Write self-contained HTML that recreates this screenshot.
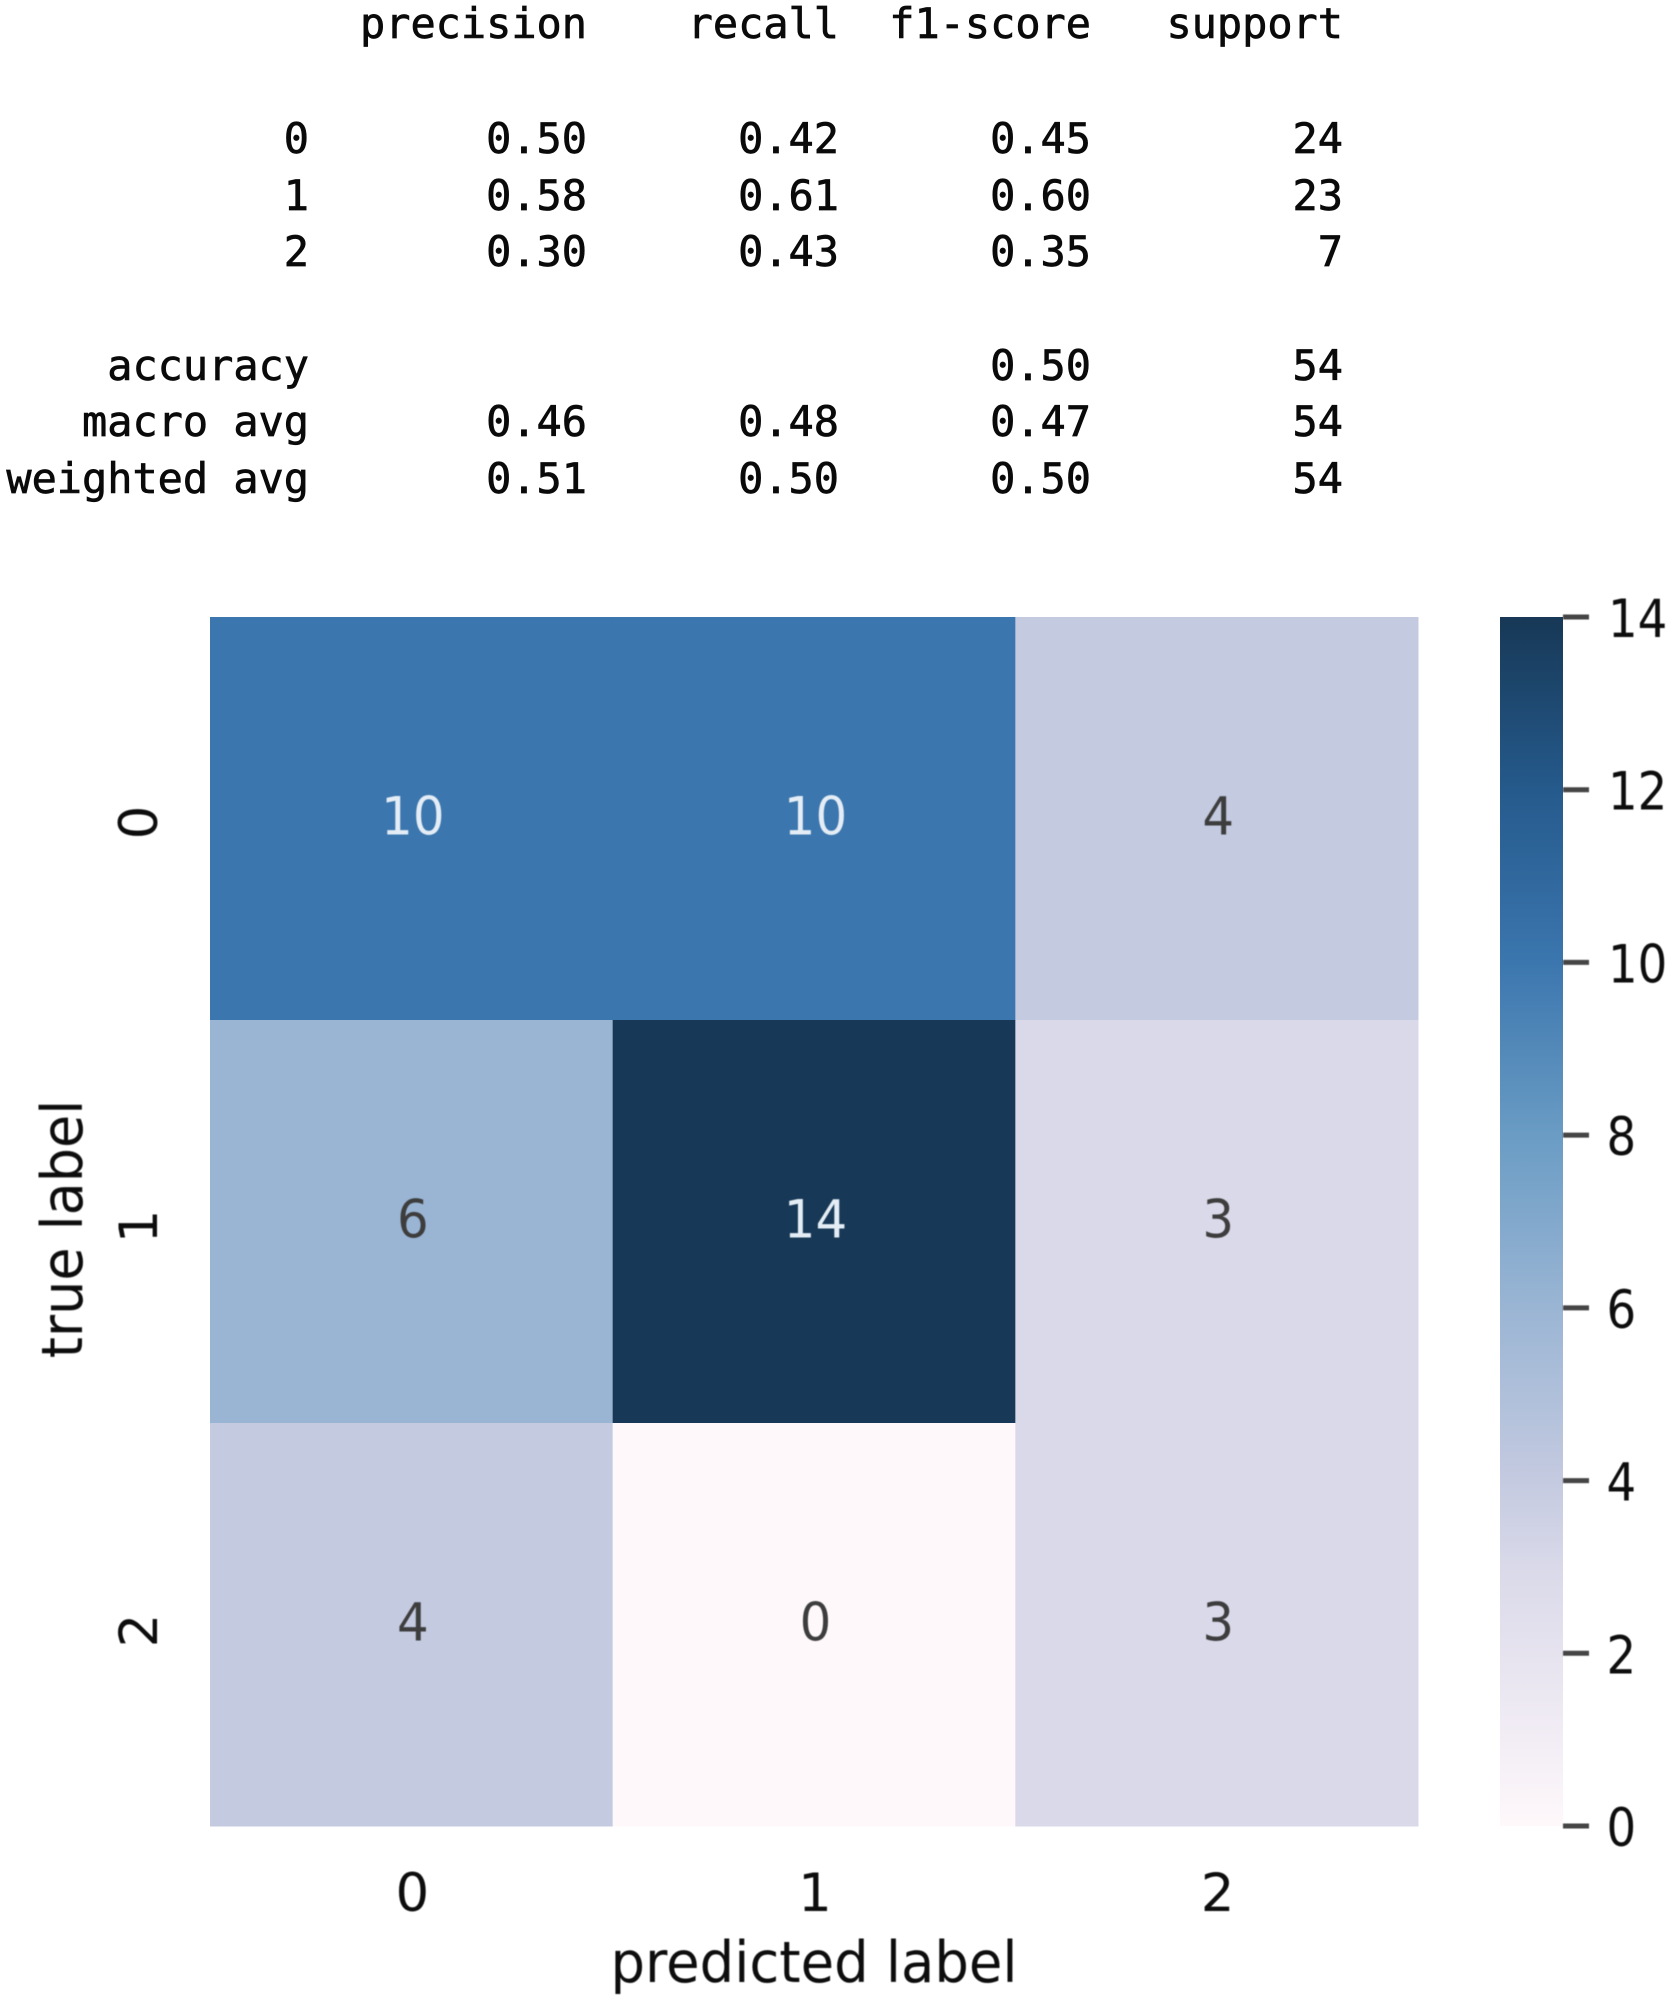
<!DOCTYPE html>
<html>
<head>
<meta charset="utf-8">
<title>Classification report and confusion matrix</title>
<style>
html,body{margin:0;padding:0;background:#fff;width:1675px;height:2005px;overflow:hidden}
svg{display:block}
.mono{font-family:"DejaVu Sans Mono","Liberation Mono",monospace;font-size:41.9px;fill:#0a0a0a;stroke:#0a0a0a;stroke-width:0.7px;text-anchor:end}
.sans{font-family:"DejaVu Sans","Liberation Sans",sans-serif;text-anchor:middle}
</style>
</head>
<body>
<svg id="figure" xmlns="http://www.w3.org/2000/svg" width="1675" height="2005" viewBox="0 0 1675 2005">
<defs>
<linearGradient id="cbar-gradient" x1="0" y1="1" x2="0" y2="0"></linearGradient>
<filter id="soft" filterUnits="userSpaceOnUse" x="0" y="0" width="1675" height="2005"><feGaussianBlur stdDeviation="0.6"/></filter>
</defs>
<g id="report"></g>
<g id="cells"></g>
<g id="annots" filter="url(#soft)"></g>
<g id="xaxis" filter="url(#soft)"></g>
<g id="yaxis" filter="url(#soft)"></g>
<g id="cbar"></g>
<g id="cbar-ticks" filter="url(#soft)"></g>
</svg>
<script>
// Classification report data
const reportHeaders = ["precision", "recall", "f1-score", "support"];
const reportLabels = ["0", "1", "2", "accuracy", "macro avg", "weighted avg"];
const reportPrecision = ["0.50", "0.58", "0.30", "", "0.46", "0.51"];
const reportRecall = ["0.42", "0.61", "0.43", "", "0.48", "0.50"];
const reportF1 = ["0.45", "0.60", "0.35", "0.50", "0.47", "0.50"];
const reportSupport = ["24", "23", "7", "54", "54", "54"];

// Confusion matrix data
const predictedCategories = ["0", "1", "2"];
const trueCategories = ["0", "1", "2"];
const matrixRow0 = [10, 10, 4];
const matrixRow1 = [6, 14, 3];
const matrixRow2 = [4, 0, 3];
const colorbarTicks = [0, 2, 4, 6, 8, 10, 12, 14];

// Colour map anchors: value and colour
const cmapValues = [0, 1, 2, 3, 4, 6, 8, 10, 12, 14];
const cmapColors = ["#fef8fb", "#f2edf5", "#e6e3ef", "#d9d9e9", "#c4cae0", "#9ab5d4", "#6a9cc4", "#3b76ae", "#255a8c", "#173856"];

const SVG_NS = "http://www.w3.org/2000/svg";
const matrix = [matrixRow0, matrixRow1, matrixRow2];

const plot = { left: 210, right: 1418, top: 617, bottom: 1826 };
const bar = { left: 1500, right: 1563, top: 617, bottom: 1826, tick: 26 };

const xBand = d3Band(predictedCategories, plot.left, plot.right);
const yBand = d3Band(trueCategories, plot.top, plot.bottom);
const vMax = Math.max(...cmapValues);
function cbarY(v) { return bar.bottom - (v / vMax) * (bar.bottom - bar.top); }

function d3Band(cats, a, b) {
  const step = (b - a) / cats.length;
  return { step, pos: (i) => a + i * step, mid: (i) => a + (i + 0.5) * step };
}
function hexToRgb(h) {
  return [parseInt(h.slice(1, 3), 16), parseInt(h.slice(3, 5), 16), parseInt(h.slice(5, 7), 16)];
}
function colorFor(v) {
  const c = Math.max(0, Math.min(vMax, v));
  let i = 0;
  while (i < cmapValues.length - 2 && c > cmapValues[i + 1]) i++;
  const t = (c - cmapValues[i]) / (cmapValues[i + 1] - cmapValues[i]);
  const a = hexToRgb(cmapColors[i]);
  const b = hexToRgb(cmapColors[i + 1]);
  const m = a.map((x, k) => Math.round(x + (b[k] - x) * t));
  return "rgb(" + m.join(",") + ")";
}
function make(tag, parent) {
  const el = document.createElementNS(SVG_NS, tag);
  parent.appendChild(el);
  return el;
}
function setAll(el, attrs) {
  for (const k in attrs) el.setAttribute(k, attrs[k]);
}

// Report table
const reportG = document.getElementById("report");
const columnRight = [587, 839, 1091, 1343];
const headerBaseline = 38;
const rowBaselines = [153, 210, 266, 380, 436, 493];
reportHeaders.forEach((h, i) => {
  const t = make("text", reportG);
  setAll(t, { class: "mono", x: columnRight[i], y: headerBaseline });
  
  
  t.textContent = h;
});
const reportColumns = [reportPrecision, reportRecall, reportF1, reportSupport];
reportLabels.forEach((label, r) => {
  const t = make("text", reportG);
  setAll(t, { class: "mono", x: 309, y: rowBaselines[r] });
  
  
  t.textContent = label;
  reportColumns.forEach((col, c) => {
    if (!col[r]) return;
    const v = make("text", reportG);
    setAll(v, { class: "mono", x: columnRight[c], y: rowBaselines[r] });
    
    
    v.textContent = col[r];
  });
});

// Heatmap cells and annotations
const cellsG = document.getElementById("cells");
const annotsG = document.getElementById("annots");
matrix.forEach((row, r) => {
  row.forEach((value, c) => {
    const rect = make("rect", cellsG);
    setAll(rect, { x: xBand.pos(c), y: yBand.pos(r), width: xBand.step + 0.5, height: yBand.step + 0.5, fill: colorFor(value) });
    
    
    const t = make("text", annotsG);
    setAll(t, {
      class: "sans", "font-size": 53,
      transform: "translate(" + (xBand.mid(c) + 1.5) + "," + (yBand.mid(r) + 16) + ") scale(0.94,1)",
      fill: value >= 8 ? "#e4edf5" : "#3c3c3c"
    });
    
    
    t.textContent = value;
  });
});

// X axis
const xG = document.getElementById("xaxis");
predictedCategories.forEach((cat, i) => {
  const t = make("text", xG);
  setAll(t, { class: "sans", x: xBand.mid(i) + 1, y: 1911, "font-size": 53, fill: "#0a0a0a" });
  
  
  t.textContent = cat;
});
const xTitle = make("text", xG);
setAll(xTitle, { class: "sans", "font-size": 57, fill: "#0a0a0a", transform: "translate(814,1982) scale(0.955,1)" });


xTitle.textContent = "predicted label";

// Y axis
const yG = document.getElementById("yaxis");
trueCategories.forEach((cat, i) => {
  const t = make("text", yG);
  const ym = yBand.mid(i) + 4 + i;
  setAll(t, { class: "sans", x: 0, y: 0, "font-size": 53, fill: "#0a0a0a", transform: "translate(157," + ym + ") rotate(-90)" });
  
  
  t.textContent = cat;
});
const yTitle = make("text", yG);
setAll(yTitle, { class: "sans", x: 0, y: 0, "font-size": 57, fill: "#0a0a0a", transform: "translate(82,1229) rotate(-90) scale(0.947,1)" });


yTitle.textContent = "true label";

// Colorbar
const grad = document.getElementById("cbar-gradient");
cmapValues.forEach((v, i) => {
  const s = make("stop", grad);
  setAll(s, { offset: v / vMax, "stop-color": cmapColors[i] });
});
const cbarG = document.getElementById("cbar");
const cbarTicksG = document.getElementById("cbar-ticks");
const cbarRect = make("rect", cbarG);
setAll(cbarRect, { x: bar.left, y: bar.top, width: bar.right - bar.left, height: bar.bottom - bar.top, fill: "url(#cbar-gradient)" });


colorbarTicks.forEach((v) => {
  const y = cbarY(v);
  const line = make("line", cbarTicksG);
  setAll(line, { x1: bar.right, x2: bar.right + bar.tick, y1: y, y2: y, stroke: "#444", "stroke-width": 5 });
  
  
  const t = make("text", cbarTicksG);
  setAll(t, {
    class: "sans", "font-size": 53, fill: "#0a0a0a",
    transform: "translate(" + (v >= 10 ? 1608 : 1606.5) + "," + (y + 20) + ") scale(0.88,1)"
  });
  t.style.textAnchor = "start";
  
  
  t.textContent = v;
});
</script>
</body>
</html>
